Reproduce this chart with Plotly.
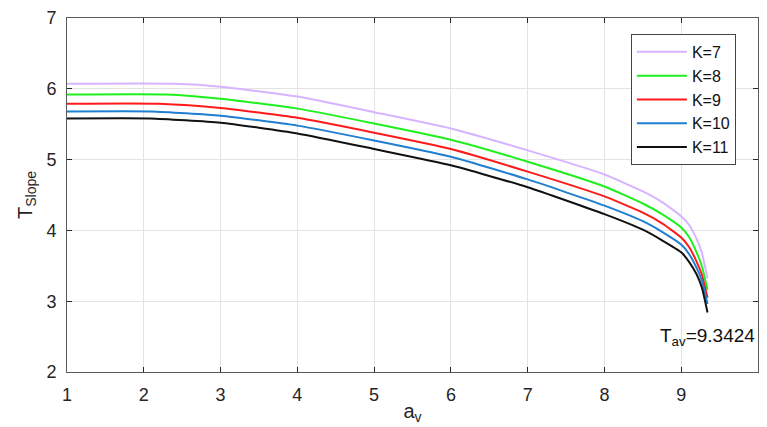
import plotly.graph_objects as go

# Data
labels = ["K=7", "K=8", "K=9", "K=10", "K=11"]
colors = ["#D7B4FF", "#1EF01E", "#FF1A1A", "#1F7FD0", "#111111"]

x_k7 = [1, 2.4, 3, 4, 5, 6, 7, 8, 8.5, 8.75, 9, 9.1, 9.2, 9.27, 9.3424]
y_k7 = [6.07, 6.07, 6.03, 5.89, 5.67, 5.44, 5.13, 4.79, 4.55, 4.40, 4.20, 4.08, 3.88, 3.68, 3.32]

x_k8 = [1, 2.3, 3, 4, 5, 6, 7, 8, 8.5, 8.75, 9, 9.1, 9.2, 9.27, 9.3424]
y_k8 = [5.92, 5.92, 5.86, 5.72, 5.51, 5.28, 4.97, 4.62, 4.38, 4.23, 4.04, 3.91, 3.69, 3.49, 3.16]

x_k9 = [1, 2.2, 3, 4, 5, 6, 7, 8, 8.5, 8.75, 9, 9.1, 9.2, 9.27, 9.3424]
y_k9 = [5.79, 5.79, 5.73, 5.59, 5.38, 5.15, 4.83, 4.48, 4.25, 4.10, 3.90, 3.77, 3.56, 3.37, 3.05]

x_k10 = [1, 2.1, 3, 4, 5, 6, 7, 8, 8.5, 8.75, 9, 9.1, 9.2, 9.27, 9.3424]
y_k10 = [5.68, 5.68, 5.62, 5.48, 5.27, 5.04, 4.72, 4.35, 4.13, 3.98, 3.80, 3.67, 3.47, 3.29, 2.96]

x_k11 = [1, 2.08, 3, 4, 5, 6, 7, 8, 8.5, 8.75, 9, 9.1, 9.2, 9.27, 9.3424]
y_k11 = [5.58, 5.58, 5.52, 5.37, 5.15, 4.92, 4.61, 4.23, 4.01, 3.86, 3.69, 3.56, 3.38, 3.19, 2.84]

xs = [x_k7, x_k8, x_k9, x_k10, x_k11]
ys = [y_k7, y_k8, y_k9, y_k10, y_k11]

x_ticks = [1, 2, 3, 4, 5, 6, 7, 8, 9]
y_ticks = [2, 3, 4, 5, 6, 7]
T_av = 9.3424

fig = go.Figure()
for lab, c, xv, yv in zip(labels, colors, xs, ys):
    fig.add_trace(go.Scatter(x=xv, y=yv, mode="lines", name=lab,
                             line=dict(color=c, width=2, shape="spline", smoothing=0.5)))

font_family = "Liberation Sans, Arial, sans-serif"
axis_common = dict(showline=True, linecolor="#5a5a5a", linewidth=1, mirror="ticks",
                   ticks="inside", ticklen=5, tickcolor="#262626",
                   showgrid=True, gridcolor="#e3e3e3", gridwidth=1, zeroline=False,
                   tickfont=dict(size=18, color="#262626", family=font_family))

fig.update_xaxes(range=[1, 10], tickvals=x_ticks, ticklabelstandoff=6,
                 title=dict(text="a<sub>v</sub>", font=dict(size=20, color="#262626", family=font_family),
                            standoff=0),
                 **axis_common)
fig.update_yaxes(range=[2, 7], tickvals=y_ticks, ticklabelstandoff=6,
                 title=dict(text="T<sub>Slope</sub>", font=dict(size=20, color="#262626", family=font_family),
                            standoff=8),
                 **axis_common)

fig.add_annotation(x=T_av, y=2.5, xref="x", yref="y",
                   text="T<sub>av</sub>=%.4f" % T_av, showarrow=False,
                   font=dict(size=19, color="#111111", family=font_family),
                   xanchor="center", yanchor="middle")

fig.update_layout(
    width=767, height=427,
    margin=dict(l=67, r=8, t=16, b=55),
    paper_bgcolor="white", plot_bgcolor="white",
    font=dict(family=font_family, color="#262626"),
    legend=dict(x=0.968, y=0.955, xanchor="right", yanchor="top",
                bgcolor="white", bordercolor="#444444", borderwidth=1,
                font=dict(size=16, color="#111111", family=font_family),
                tracegroupgap=0, itemwidth=50),
)

fig.write_html("out.html")
